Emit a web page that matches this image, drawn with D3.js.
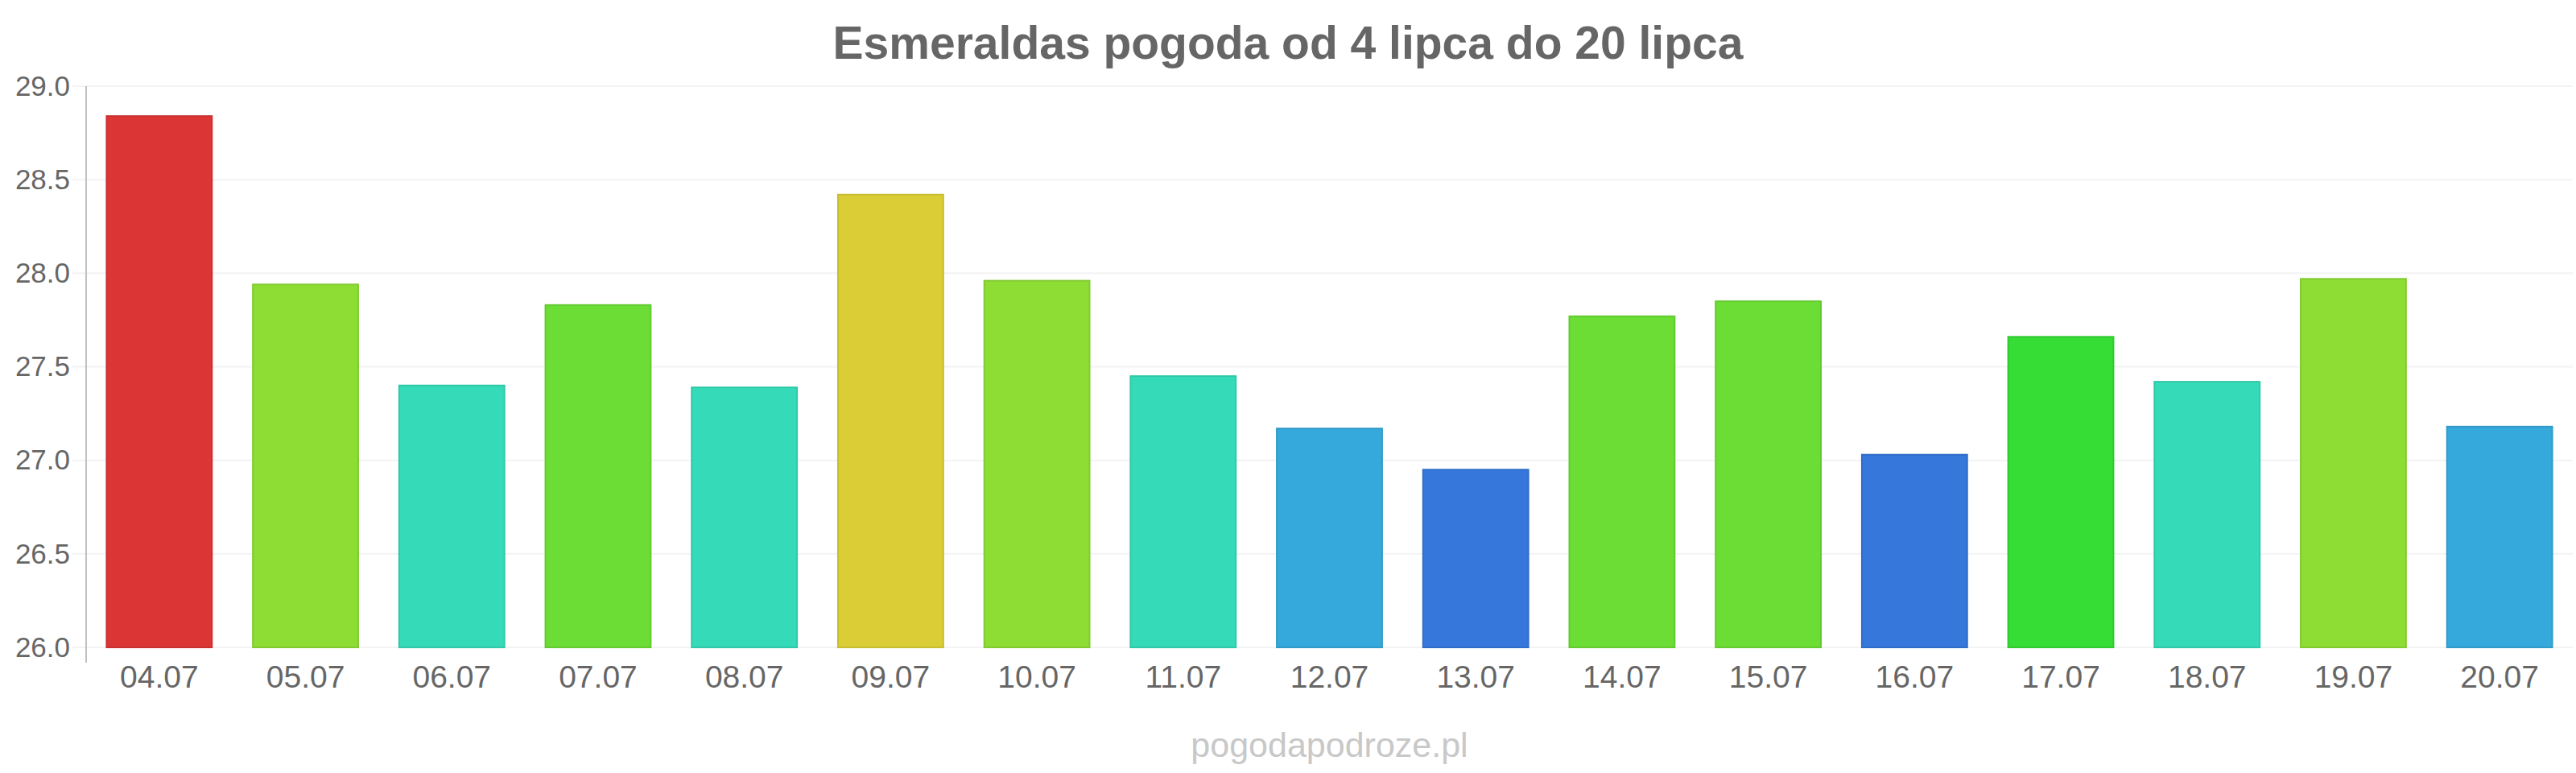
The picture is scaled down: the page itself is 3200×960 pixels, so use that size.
<!DOCTYPE html>
<html>
<head>
<meta charset="utf-8">
<script src="https://cdn.jsdelivr.net/npm/d3@7"></script>
<style>
  body { margin: 0; background: #fff; }
  text { font-family: "Liberation Sans", Arial, sans-serif; }
</style>
</head>
<body>
<svg class="chart" width="3200" height="960"></svg>
<script>
// dane
const days = ["04.07", "05.07", "06.07", "07.07", "08.07", "09.07", "10.07", "11.07", "12.07",
              "13.07", "14.07", "15.07", "16.07", "17.07", "18.07", "19.07", "20.07"];
const temps = [28.84, 27.94, 27.40, 27.83, 27.39, 28.42, 27.96, 27.45, 27.17,
               26.95, 27.77, 27.85, 27.03, 27.66, 27.42, 27.97, 27.18];
const barColors = ["#dc3535", "#8ddd35", "#35dbb8", "#6cdd35", "#35dbb8", "#dbcd35", "#8ddd35", "#35dbb8", "#35a9db",
                   "#3577db", "#6cdd35", "#6cdd35", "#3577db", "#35dd35", "#35dbb8", "#8ddd35", "#35a9db"];
const yTicks = [26.0, 26.5, 27.0, 27.5, 28.0, 28.5, 29.0];

const svg = d3.select(".chart");

const plotLeft = 107, plotRight = 3196, plotTop = 107, plotBottom = 804;

const x = d3.scaleBand().domain(days).range([plotLeft, plotRight]).paddingInner(0.28).paddingOuter(0.14);
const y = d3.scaleLinear().domain([26, 29]).range([plotBottom, plotTop]);

// tytul
svg.append("text")
  .attr("x", 1600).attr("y", 73)
  .attr("text-anchor", "middle")
  .attr("font-size", 57).attr("font-weight", "bold")
  .attr("fill", "#666")
  .text("Esmeraldas pogoda od 4 lipca do 20 lipca");

// siatka
svg.append("g").selectAll("line")
  .data(yTicks)
  .enter()
  .append("line")
  .attr("x1", 90).attr("x2", plotRight)
  .attr("y1", d => y(d)).attr("y2", d => y(d))
  .attr("stroke", "#f3f3f3").attr("stroke-width", 2);

// os Y
const yAxis = svg.append("g")
  .attr("transform", `translate(${plotLeft},0)`)
  .call(d3.axisLeft(y).tickValues(yTicks).tickFormat(d3.format(".1f")).tickSize(0).tickPadding(20));
yAxis.select(".domain").remove();
yAxis.selectAll("text").attr("font-size", 35).attr("fill", "#666").attr("font-family", "Liberation Sans, Arial, sans-serif");

svg.append("line")
  .attr("x1", plotLeft).attr("x2", plotLeft)
  .attr("y1", plotTop).attr("y2", plotBottom + 19)
  .attr("stroke", "#c0c0c0").attr("stroke-width", 2);

// slupki
svg.append("g").selectAll("rect")
  .data(temps)
  .enter()
  .append("rect")
  .attr("x", (d, i) => x(days[i]))
  .attr("y", d => y(d))
  .attr("width", x.bandwidth())
  .attr("height", d => plotBottom - y(d))
  .attr("fill", (d, i) => barColors[i])
  .attr("stroke", (d, i) => d3.color(barColors[i]).darker(0.25))
  .attr("stroke-width", 2);

// os X
const xAxis = svg.append("g")
  .attr("transform", `translate(0,${plotBottom})`)
  .call(d3.axisBottom(x).tickSize(0).tickPadding(22));
xAxis.select(".domain").remove();
xAxis.selectAll("text").attr("font-size", 39).attr("fill", "#666").attr("font-family", "Liberation Sans, Arial, sans-serif");

// znak wodny
svg.append("text")
  .attr("x", (plotLeft + plotRight) / 2).attr("y", 940)
  .attr("text-anchor", "middle")
  .attr("font-size", 43)
  .attr("fill", "#c8c8c8")
  .text("pogodapodroze.pl");
</script>
</body>
</html>
